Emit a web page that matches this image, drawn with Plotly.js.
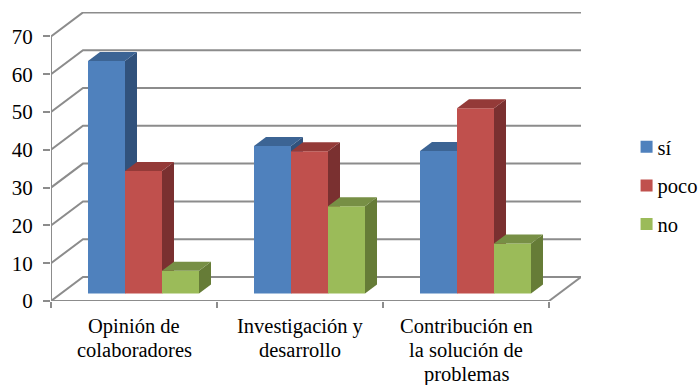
<!DOCTYPE html>
<html><head><meta charset="utf-8">
<script src="https://cdn.plot.ly/plotly-3.0.1.min.js"></script>
<style>html,body{margin:0;padding:0;background:#fff}</style></head>
<body><div id="chart" style="width:698px;height:385px"></div>
<script>
const categories = ["Opinión de<br>colaboradores","Investigación y<br>desarrollo","Contribución en<br>la solución de<br>problemas"];
const si = [61.5, 39, 37.7];
const poco = [32.4, 37.6, 49];
const no = [6, 23.1, 13.2];
const seriesNames = ["sí","poco","no"];
const yTicks = [0,10,20,30,40,50,60,70];

const seriesValues = [si, poco, no];
const frontColors = ["#4F81BD","#C0504D","#9BBB59"];
const topColors = ["#3C6494","#943A38","#778F45"];
const sideColors = ["#31527C","#7A3030","#667C37"];

// pixel-to-data scales of the oblique projection
const pxX = 1/166, pxY = 1/3.78;
const xMin = -0.5, xMax = 2.5, wallDx = 32*pxX, wallDy = 24*pxY;
const xRange = [xMin, xMax + wallDx], yRange = [0, 289*pxY];
const barW = 37*pxX, barBase = 7.5*pxY, depthX = 12*pxX, depthY = 9*pxY;

const gridColor = "#8C8C8C";
const gx = [], gy = [];
yTicks.forEach(v => {
  gx.push(xMin, xMin+wallDx, xMax+wallDx, null);
  gy.push(v, v+wallDy, v+wallDy, null);
});
gx.push(xMax, xMax+wallDx, null);
gy.push(0, wallDy, null);
const traces = [
  {type:"scatter",mode:"lines",x:gx,y:gy,line:{color:gridColor,width:2},showlegend:false,hoverinfo:"skip",cliponaxis:false,xaxis:"x",yaxis:"y"},
  {type:"scatter",mode:"lines",x:[xMin,xMin,null,xMin,xMax],y:[0,yTicks[yTicks.length-1],null,0,0],line:{color:gridColor,width:2},showlegend:false,hoverinfo:"skip",cliponaxis:false,xaxis:"x",yaxis:"y"}
];
seriesValues.forEach((vals,s) => {
  const ax = "x"+(s+2), ay = "y"+(s+2);
  const off = -0.5 + barW*(1+s);
  traces.push({type:"bar",name:seriesNames[s],x:[0,1,2],y:vals,base:barBase,width:barW,offset:off,
    marker:{color:frontColors[s],line:{width:0}},xaxis:ax,yaxis:ay,legendgroup:seriesNames[s],cliponaxis:false});
  vals.forEach((v,i) => {
    const l = i+off, r = l+barW, t = barBase+v;
    traces.push({type:"scatter",mode:"lines",fill:"toself",fillcolor:sideColors[s],line:{width:0,color:sideColors[s]},
      x:[r,r+depthX,r+depthX,r,r],y:[barBase,barBase+depthY,t+depthY,t,barBase],showlegend:false,hoverinfo:"skip",xaxis:ax,yaxis:ay,cliponaxis:false});
    traces.push({type:"scatter",mode:"lines",fill:"toself",fillcolor:topColors[s],line:{width:0,color:topColors[s]},
      x:[l,l+depthX,r+depthX,r,l],y:[t,t+depthY,t+depthY,t,t],showlegend:false,hoverinfo:"skip",xaxis:ax,yaxis:ay,cliponaxis:false});
  });
});
const font = {family:"'Liberation Serif','Times New Roman',serif",color:"#000000"};
const annotations = [];
categories.forEach((c,i) => c.split("<br>").forEach((t,k) => annotations.push({
  text:t,x:i,xref:"x",y:0,yref:"y",yanchor:"middle",xanchor:"center",showarrow:false,yshift:-(25+24*k),
  font:{size:20.5,family:font.family,color:"#000"}})));
const hiddenX = {range:xRange,visible:false,overlaying:"x",fixedrange:true};
const hiddenY = {range:yRange,visible:false,overlaying:"y",fixedrange:true};
const layout = {
  width:698,height:385,margin:{l:51,r:117,t:12,b:84,pad:0,autoexpand:false},
  paper_bgcolor:"#fff",plot_bgcolor:"rgba(0,0,0,0)",barmode:"overlay",font:font,annotations:annotations,
  xaxis:{range:xRange,showgrid:false,zeroline:false,showline:false,tickmode:"array",tickvals:[-0.5,0.5,1.5,2.5],showticklabels:false,
    ticks:"outside",ticklen:6,tickwidth:2,tickcolor:gridColor},
  yaxis:{range:yRange,showgrid:false,zeroline:false,showline:false,tickmode:"array",tickvals:yTicks,ticks:"outside",ticklen:7,tickwidth:2,tickcolor:gridColor,
    ticklabelstandoff:6,tickfont:{size:21,family:font.family,color:"#000"}},
  xaxis2:{...hiddenX,anchor:"y2"},yaxis2:{...hiddenY,anchor:"x2"},
  xaxis3:{...hiddenX,anchor:"y3"},yaxis3:{...hiddenY,anchor:"x3"},
  xaxis4:{...hiddenX,anchor:"y4"},yaxis4:{...hiddenY,anchor:"x4"},
  legend:{x:1.069,xanchor:"left",y:0.4,yanchor:"middle",tracegroupgap:9,font:{size:20.5,family:font.family,color:"#000"},bgcolor:"rgba(0,0,0,0)",itemwidth:30,traceorder:"grouped"},
  showlegend:true
};
Plotly.newPlot("chart",traces,layout,{displayModeBar:false,staticPlot:true}).then(() => {
  document.querySelectorAll(".legend .legendsymbols").forEach(e => e.setAttribute("transform","translate(9,0)"));
});
</script></body></html>
